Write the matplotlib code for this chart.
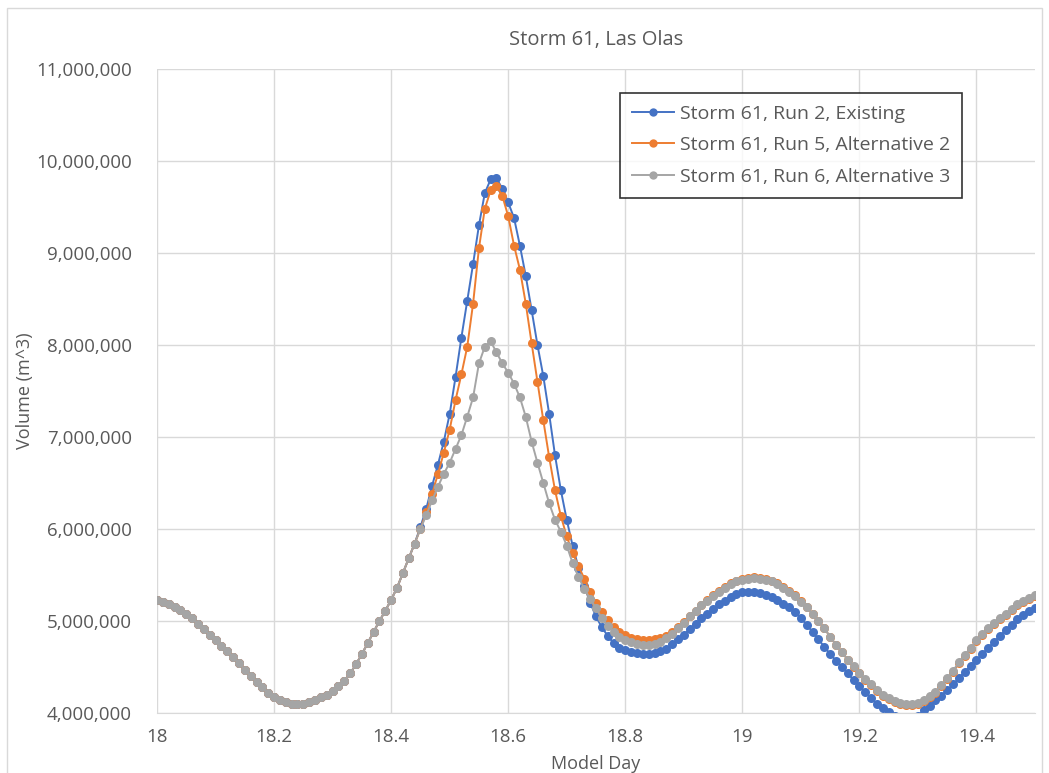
# Storm 61, Las Olas - volume vs model day for three runs

import numpy as np
import matplotlib.pyplot as plt
from matplotlib.patches import Rectangle
from matplotlib.ticker import FuncFormatter, MultipleLocator

# model day, sampled every 0.01 day from 18.00 to 19.50
day = np.linspace(18.0, 19.5, 151)

# volume in millions of m^3, 18.00 - 18.44 (all three runs identical)
shared_start = [
    5.23, 5.21, 5.18, 5.15, 5.12, 5.08, 5.03, 4.97, 4.91, 4.85,
    4.79, 4.73, 4.67, 4.61, 4.54, 4.47, 4.40, 4.34, 4.28, 4.22,
    4.17, 4.14, 4.12, 4.10, 4.10, 4.10, 4.12, 4.14, 4.17, 4.20,
    4.24, 4.29, 4.35, 4.43, 4.53, 4.64, 4.76, 4.88, 5.00, 5.11,
    5.23, 5.36, 5.52, 5.68, 5.84,
]

# 18.45 - 19.50
run2_rest = [
    6.02, 6.22, 6.47, 6.70, 6.95,
    7.25, 7.65, 8.08, 8.48, 8.88, 9.30, 9.65, 9.80, 9.81, 9.70,
    9.55, 9.38, 9.08, 8.75, 8.38, 8.00, 7.66, 7.25, 6.80, 6.42,
    6.10, 5.82, 5.58, 5.38, 5.20, 5.05, 4.93, 4.84, 4.76, 4.71,
    4.68, 4.66, 4.65, 4.64, 4.64, 4.65, 4.67, 4.70, 4.75, 4.80,
    4.85, 4.91, 4.97, 5.03, 5.08, 5.13, 5.18, 5.22, 5.26, 5.29,
    5.31, 5.32, 5.31, 5.30, 5.28, 5.26, 5.23, 5.19, 5.15, 5.10,
    5.03, 4.96, 4.88, 4.80, 4.72, 4.64, 4.57, 4.50, 4.43, 4.36,
    4.29, 4.23, 4.16, 4.10, 4.05, 4.01, 3.97, 3.94, 3.93, 3.94,
    3.97, 4.03, 4.08, 4.14, 4.19, 4.25, 4.31, 4.38, 4.45, 4.51,
    4.58, 4.64, 4.71, 4.77, 4.84, 4.90, 4.96, 5.02, 5.07, 5.11,
    5.14,
]

run5_rest = [
    6.00, 6.18, 6.38, 6.60, 6.83,
    7.08, 7.40, 7.68, 7.98, 8.45, 9.05, 9.48, 9.68, 9.73, 9.62,
    9.40, 9.08, 8.82, 8.45, 8.02, 7.60, 7.18, 6.78, 6.42, 6.14,
    5.92, 5.74, 5.60, 5.46, 5.32, 5.20, 5.10, 5.01, 4.94, 4.88,
    4.85, 4.82, 4.80, 4.79, 4.79, 4.80, 4.81, 4.84, 4.88, 4.93,
    4.99, 5.05, 5.11, 5.17, 5.23, 5.28, 5.33, 5.37, 5.41, 5.44,
    5.46, 5.47, 5.48, 5.47, 5.46, 5.44, 5.41, 5.37, 5.33, 5.28,
    5.22, 5.15, 5.08, 5.00, 4.92, 4.83, 4.74, 4.66, 4.58, 4.50,
    4.43, 4.36, 4.30, 4.24, 4.19, 4.15, 4.12, 4.10, 4.09, 4.09,
    4.10, 4.13, 4.17, 4.22, 4.29, 4.37, 4.45, 4.54, 4.62, 4.70,
    4.78, 4.85, 4.91, 4.97, 5.02, 5.07, 5.12, 5.17, 5.21, 5.24,
    5.27,
]

run6_rest = [
    6.00, 6.15, 6.31, 6.46, 6.60,
    6.72, 6.87, 7.02, 7.22, 7.43, 7.80, 7.98, 8.04, 7.92, 7.80,
    7.70, 7.58, 7.43, 7.22, 6.95, 6.72, 6.50, 6.28, 6.10, 5.97,
    5.82, 5.63, 5.48, 5.35, 5.24, 5.14, 5.03, 4.95, 4.88, 4.83,
    4.79, 4.77, 4.75, 4.74, 4.74, 4.75, 4.77, 4.81, 4.86, 4.92,
    4.98, 5.05, 5.11, 5.17, 5.22, 5.27, 5.32, 5.36, 5.40, 5.43,
    5.45, 5.46, 5.47, 5.46, 5.45, 5.43, 5.40, 5.36, 5.32, 5.27,
    5.21, 5.15, 5.08, 5.00, 4.92, 4.83, 4.74, 4.66, 4.58, 4.51,
    4.44, 4.37, 4.31, 4.25, 4.20, 4.16, 4.13, 4.11, 4.10, 4.10,
    4.11, 4.14, 4.18, 4.23, 4.30, 4.38, 4.46, 4.55, 4.63, 4.71,
    4.79, 4.86, 4.92, 4.98, 5.03, 5.08, 5.13, 5.18, 5.22, 5.25,
    5.28,
]

labels = ['Storm 61, Run 2, Existing',
          'Storm 61, Run 5, Alternative 2',
          'Storm 61, Run 6, Alternative 3']
colors = ['#4472C4', '#ED7D31', '#A5A5A5']

run2 = np.array(shared_start + run2_rest) * 1e6
run5 = np.array(shared_start + run5_rest) * 1e6
run6 = np.array(shared_start + run6_rest) * 1e6

plt.rcParams['font.family'] = ['Open Sans', 'DejaVu Sans']
text_color = '#595959'
grid_color = '#D9D9D9'

fig = plt.figure(figsize=(10.49, 7.73), dpi=100)
fig.patches.append(Rectangle((7 / 1049, -0.05), 1035 / 1049, 1.05 - 8 / 773,
                             transform=fig.transFigure, fill=False,
                             edgecolor=grid_color, linewidth=1.0))
ax = fig.add_axes([157 / 1049, 1 - 713 / 773, 878 / 1049, 644 / 773])

for y, c, lab in zip([run2, run5, run6], colors, labels):
    ax.plot(day, y, color=c, linewidth=1.4, marker='o', markersize=6.5,
            markeredgewidth=0, label=lab)

ax.set_xlim(18, 19.5)
ax.set_ylim(4e6, 11e6)
ax.set_xticks([18, 18.2, 18.4, 18.6, 18.8, 19, 19.2, 19.4])
ax.set_xticklabels(['18', '18.2', '18.4', '18.6', '18.8', '19', '19.2', '19.4'])
ax.yaxis.set_major_locator(MultipleLocator(1e6))
ax.yaxis.set_major_formatter(FuncFormatter(lambda v, p: '{:,.0f}'.format(v)))

ax.grid(True, color=grid_color, linewidth=1.0)
ax.set_axisbelow(True)
for s in ['top', 'right', 'left']:
    ax.spines[s].set_visible(False)
ax.spines['bottom'].set_color(grid_color)
ax.tick_params(length=0, labelsize=13.5, colors=text_color)
ax.tick_params(axis='y', pad=18)
ax.tick_params(axis='x', pad=11)

fig.text(596 / 1049, 1 - 40 / 773, 'Storm 61, Las Olas', ha='center', va='center',
         fontsize=14.5, color=text_color)
fig.text(596 / 1049, 1 - 764 / 773, 'Model Day', ha='center', va='center',
         fontsize=13, color=text_color)
fig.text(25 / 1049, 1 - 391 / 773, 'Volume (m^3)', ha='center', va='center',
         rotation=90, fontsize=13, color=text_color)

leg = ax.legend(loc='upper left', bbox_to_anchor=((620 - 157) / 878, (713 - 93) / 644),
                fontsize=14, frameon=True, fancybox=False, handlelength=2.2,
                handletextpad=0.3, borderpad=0.6, labelspacing=0.7,
                borderaxespad=0)
leg.get_frame().set_edgecolor('black')
leg.get_frame().set_linewidth(1.2)
for t in leg.get_texts():
    t.set_color(text_color)
for h in leg.get_lines():
    h.set_markersize(6)

plt.savefig('out.png', dpi=100)
